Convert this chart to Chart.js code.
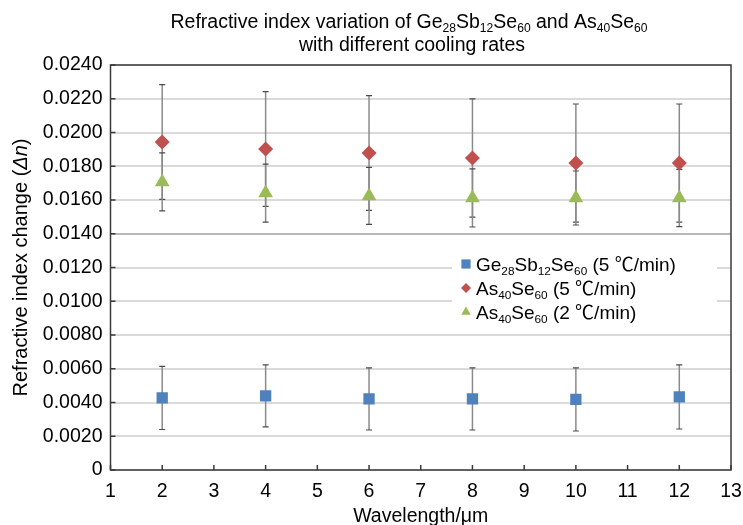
<!DOCTYPE html>
<html>
<head>
<meta charset="utf-8">
<script src="https://cdn.jsdelivr.net/npm/chart.js@4.4.0/dist/chart.umd.min.js"></script>
<style>
  html, body { margin: 0; padding: 0; background: #fff; }
  #wrap { width: 743px; height: 525px; }
</style>
</head>
<body>
<div id="wrap"><canvas id="chart"></canvas></div>
<script>
// ===== Data =====
const wavelengths = [2, 4, 6, 8, 10, 12];

const geSbSe5 = [0.00427, 0.00439, 0.00421, 0.00421, 0.00418, 0.00433];
const geSbSe5Err = [0.00187, 0.00184, 0.00184, 0.00184, 0.00187, 0.0019];

const asSe5 = [0.01944, 0.01902, 0.01879, 0.01849, 0.01819, 0.01819];
const asSe5Err = [0.0034, 0.0034, 0.0034, 0.0035, 0.0035, 0.0035];

const asSe2 = [0.01707, 0.01641, 0.01624, 0.01612, 0.01612, 0.01612];
const asSe2Err = [0.00172, 0.00172, 0.00169, 0.00172, 0.0016, 0.0017];

const xTicks = [1, 2, 3, 4, 5, 6, 7, 8, 9, 10, 11, 12, 13];
const yTicks = [0, 0.002, 0.004, 0.006, 0.008, 0.010, 0.012, 0.014, 0.016, 0.018, 0.020, 0.022, 0.024];

// text pieces: [text, kind]  kind: 's' subscript, 'i' italic, 'c' CJK glyph
const seriesLabels = [
  [['Ge'], ['28', 's'], ['Sb'], ['12', 's'], ['Se'], ['60', 's'], [' (5 '], ['\u2103', 'c'], ['/min)']],
  [['As'], ['40', 's'], ['Se'], ['60', 's'], [' (5 '], ['\u2103', 'c'], ['/min)']],
  [['As'], ['40', 's'], ['Se'], ['60', 's'], [' (2 '], ['\u2103', 'c'], ['/min)']],
];
const titleLines = [
  [['Refractive index variation of Ge'], ['28', 's'], ['Sb'], ['12', 's'], ['Se'], ['60', 's'], [' and As'], ['40', 's'], ['Se'], ['60', 's']],
  [['with different cooling rates']],
];
const yTitle = [['Refractive index change ('], ['\u0394n', 'i'], [')']];
const xTitle = [['Wavelength/\u03bcm']];

// ===== Theme =====
const FONT = "'Liberation Sans', Arial, sans-serif";
const CJK = "'Noto Sans CJK SC', 'Noto Sans CJK JP', sans-serif";
const COLORS = {
  ink: '#000000',
  frame: '#3a3a3a',
  grid: '#dadada',
  errBar: '#8a8a8a',
  errCap: '#4a4a4a',
  blue: '#4f81bd',
  red: '#c0504d',
  green: '#9bbb59',
};

const toPoints = (ys) => wavelengths.map((x, i) => ({ x, y: ys[i] }));

function fontFor(kind, size) {
  if (kind === 's') return `${(size * 0.62).toFixed(1)}px ${FONT}`;
  if (kind === 'i') return `italic ${size}px ${FONT}`;
  if (kind === 'c') return `${size}px ${CJK}`;
  return `${size}px ${FONT}`;
}
function richWidth(ctx, segs, size) {
  let w = 0;
  for (const [t, k] of segs) {
    ctx.font = fontFor(k, size);
    w += ctx.measureText(t).width;
  }
  return w;
}
function drawRich(ctx, segs, x, y, size, align) {
  const w = richWidth(ctx, segs, size);
  let cx = align === 'center' ? x - w / 2 : x;
  ctx.textBaseline = 'alphabetic';
  ctx.textAlign = 'left';
  for (const [t, k] of segs) {
    ctx.font = fontFor(k, size);
    const dy = k === 's' ? size * 0.2 : 0;
    ctx.fillText(t, cx, y + dy);
    cx += ctx.measureText(t).width;
  }
}

// error bars, frame, inner ticks, titles, legend
const decorPlugin = {
  id: 'decor',
  beforeDatasetsDraw(chart) {
    const { ctx, scales: { x, y } } = chart;
    ctx.save();
    chart.data.datasets.forEach((ds) => {
      ds.data.forEach((p, i) => {
        const e = ds.errors[i];
        const px = x.getPixelForValue(p.x);
        const top = y.getPixelForValue(p.y + e);
        const bot = y.getPixelForValue(p.y - e);
        ctx.strokeStyle = COLORS.errBar;
        ctx.lineWidth = 1.5;
        ctx.beginPath();
        ctx.moveTo(px, top);
        ctx.lineTo(px, bot);
        ctx.stroke();
        ctx.strokeStyle = COLORS.errCap;
        ctx.lineWidth = 1.2;
        ctx.beginPath();
        ctx.moveTo(px - 3, top); ctx.lineTo(px + 3, top);
        ctx.moveTo(px - 3, bot); ctx.lineTo(px + 3, bot);
        ctx.stroke();
      });
    });
    ctx.restore();
  },
  afterDraw(chart) {
    const { ctx, chartArea: a, scales: { x, y } } = chart;
    ctx.save();
    // legend box (covers the grid lines)
    const lx = 452;
    ctx.fillStyle = '#ffffff';
    ctx.fillRect(lx, y.getPixelForValue(0.0138), 717 - lx, y.getPixelForValue(0.0082) - y.getPixelForValue(0.0138));
    chart.data.datasets.forEach((ds, i) => {
      const cy = 264 + i * 24;
      ctx.fillStyle = ds.backgroundColor;
      ctx.strokeStyle = ds.backgroundColor;
      Chart.helpers.drawPoint(ctx, {
        pointStyle: ds.pointStyle, radius: ds.legendRadius, rotation: 0, borderWidth: 0
      }, 466, cy);
      ctx.fillStyle = COLORS.ink;
      drawRich(ctx, seriesLabels[i], 476, cy + 7, 19);
    });

    // frame
    ctx.strokeStyle = COLORS.frame;
    ctx.lineWidth = 1.5;
    ctx.strokeRect(a.left, a.top, a.right - a.left, a.bottom - a.top);
    // inward ticks
    ctx.beginPath();
    xTicks.forEach((v) => {
      const px = x.getPixelForValue(v);
      ctx.moveTo(px, a.bottom);
      ctx.lineTo(px, a.bottom - 5);
    });
    yTicks.forEach((v) => {
      const py = y.getPixelForValue(v);
      ctx.moveTo(a.left, py);
      ctx.lineTo(a.left + 5, py);
    });
    ctx.stroke();

    ctx.fillStyle = COLORS.ink;
    // chart title
    drawRich(ctx, titleLines[0], 409, 28, 19.5, 'center');
    drawRich(ctx, titleLines[1], 412, 51, 19.5, 'center');
    // axis titles
    drawRich(ctx, xTitle, (a.left + a.right) / 2, 522, 19.5, 'center');
    ctx.translate(27, (a.top + a.bottom) / 2);
    ctx.rotate(-Math.PI / 2);
    drawRich(ctx, yTitle, 0, 0, 20, 'center');
    ctx.restore();
  }
};

new Chart(document.getElementById('chart'), {
  type: 'scatter',
  data: {
    datasets: [
      {
        label: 'Ge28Sb12Se60 (5 \u2103/min)',
        data: toPoints(geSbSe5),
        errors: geSbSe5Err,
        pointStyle: 'rect',
        pointRadius: 8,
        legendRadius: 6.5,
        backgroundColor: COLORS.blue,
        borderColor: COLORS.blue,
        borderWidth: 0,
      },
      {
        label: 'As40Se60 (5 \u2103/min)',
        data: toPoints(asSe5),
        errors: asSe5Err,
        pointStyle: 'rectRot',
        pointRadius: 7.5,
        legendRadius: 5,
        backgroundColor: COLORS.red,
        borderColor: COLORS.red,
        borderWidth: 0,
      },
      {
        label: 'As40Se60 (2 \u2103/min)',
        data: toPoints(asSe2),
        errors: asSe2Err,
        pointStyle: 'triangle',
        pointRadius: 8.5,
        legendRadius: 5.5,
        backgroundColor: COLORS.green,
        borderColor: COLORS.green,
        borderWidth: 0,
      },
    ]
  },
  options: {
    responsive: true,
    maintainAspectRatio: false,
    animation: false,
    layout: { padding: { left: 0, right: 12, top: 65, bottom: 0 } },
    plugins: {
      legend: { display: false },
      title: { display: false },
      tooltip: { enabled: false },
    },
    scales: {
      x: {
        type: 'linear',
        min: 1,
        max: 13,
        afterBuildTicks: (scale) => { scale.ticks = xTicks.map((v) => ({ value: v })); },
        afterFit: (scale) => {
          scale.height = 55;
          scale.paddingLeft = 0;
          scale.paddingRight = 0;
        },
        ticks: { color: COLORS.ink, font: { family: FONT, size: 19.5 }, padding: 10 },
        grid: { display: false, drawTicks: false },
        border: { display: false },
      },
      y: {
        min: 0,
        max: 0.024,
        afterBuildTicks: (scale) => { scale.ticks = yTicks.map((v) => ({ value: v })); },
        afterFit: (scale) => {
          scale.width = 110.5;
          scale.paddingTop = 0;
          scale.paddingBottom = 0;
        },
        ticks: {
          color: COLORS.ink,
          font: { family: FONT, size: 19.5 },
          padding: 8,
          callback: (v) => (v === 0 ? '0' : v.toFixed(4)),
        },
        grid: {
          drawTicks: false,
          lineWidth: 2,
          color: (c) => (Math.abs(c.tick.value - 0.014) < 1e-9 ? '#b8b8b8' : COLORS.grid),
        },
        border: { display: false },
      }
    }
  },
  plugins: [decorPlugin]
});
</script>
</body>
</html>
